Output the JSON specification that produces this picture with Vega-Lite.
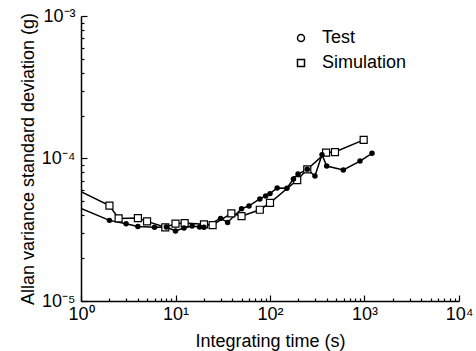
{
  "$schema": "https://vega.github.io/schema/vega-lite/v6.json",
  "width": 378,
  "height": 285,
  "autosize": {"type": "none"},
  "padding": {"left": 81, "top": 16, "right": 17, "bottom": 50},
  "background": "white",
  "config": {
    "view": {"stroke": null},
    "font": "Liberation Sans",
    "axis": {
      "domainColor": "black",
      "domainWidth": 1.5,
      "tickColor": "black",
      "tickWidth": 1.2,
      "labelColor": "black",
      "titleColor": "black",
      "labelFont": "Liberation Sans",
      "titleFont": "Liberation Sans",
      "labelFontSize": 18,
      "titleFontSize": 18,
      "titleFontWeight": "normal",
      "grid": false,
      "labelOverlap": false,
      "labelFlush": false
    }
  },
  "data": {
    "values": [
      {"series": "Test", "t": 1, "v": 4.47e-5},
      {"series": "Test", "t": 2, "v": 3.68e-5},
      {"series": "Test", "t": 3, "v": 3.49e-5},
      {"series": "Test", "t": 4, "v": 3.33e-5},
      {"series": "Test", "t": 6, "v": 3.29e-5},
      {"series": "Test", "t": 8, "v": 3.3e-5},
      {"series": "Test", "t": 10, "v": 3.1e-5},
      {"series": "Test", "t": 12.3, "v": 3.25e-5},
      {"series": "Test", "t": 15, "v": 3.36e-5},
      {"series": "Test", "t": 18, "v": 3.3e-5},
      {"series": "Test", "t": 20, "v": 3.29e-5},
      {"series": "Test", "t": 30, "v": 3.8e-5},
      {"series": "Test", "t": 35.6, "v": 3.56e-5},
      {"series": "Test", "t": 50, "v": 4.44e-5},
      {"series": "Test", "t": 60, "v": 4.65e-5},
      {"series": "Test", "t": 78, "v": 5.2e-5},
      {"series": "Test", "t": 90, "v": 5.46e-5},
      {"series": "Test", "t": 100, "v": 5.67e-5},
      {"series": "Test", "t": 119, "v": 6.21e-5},
      {"series": "Test", "t": 151, "v": 6.18e-5},
      {"series": "Test", "t": 177, "v": 7.18e-5},
      {"series": "Test", "t": 198, "v": 7.78e-5},
      {"series": "Test", "t": 248, "v": 8.4e-5},
      {"series": "Test", "t": 299, "v": 7.53e-5},
      {"series": "Test", "t": 355, "v": 1.064e-4},
      {"series": "Test", "t": 398, "v": 8.86e-5},
      {"series": "Test", "t": 597, "v": 8.3e-5},
      {"series": "Test", "t": 896, "v": 9.59e-5},
      {"series": "Test", "t": 1200, "v": 1.087e-4},
      {"series": "Simulation", "t": 1, "v": 5.85e-5},
      {"series": "Simulation", "t": 2, "v": 4.67e-5},
      {"series": "Simulation", "t": 2.5, "v": 3.8e-5},
      {"series": "Simulation", "t": 4, "v": 3.82e-5},
      {"series": "Simulation", "t": 5, "v": 3.62e-5},
      {"series": "Simulation", "t": 7.8, "v": 3.29e-5},
      {"series": "Simulation", "t": 10, "v": 3.49e-5},
      {"series": "Simulation", "t": 12.5, "v": 3.52e-5},
      {"series": "Simulation", "t": 20, "v": 3.45e-5},
      {"series": "Simulation", "t": 24.7, "v": 3.41e-5},
      {"series": "Simulation", "t": 39, "v": 4.12e-5},
      {"series": "Simulation", "t": 50, "v": 3.94e-5},
      {"series": "Simulation", "t": 78, "v": 4.37e-5},
      {"series": "Simulation", "t": 100, "v": 4.88e-5},
      {"series": "Simulation", "t": 194, "v": 7.06e-5},
      {"series": "Simulation", "t": 248, "v": 8.4e-5},
      {"series": "Simulation", "t": 392, "v": 1.1e-4},
      {"series": "Simulation", "t": 487, "v": 1.11e-4},
      {"series": "Simulation", "t": 980, "v": 1.35e-4}
    ]
  },
  "encoding": {
    "x": {
      "field": "t",
      "type": "quantitative",
      "scale": {"type": "log", "domain": [1, 10000]},
      "axis": {
        "title": "Integrating time (s)",
        "titlePadding": 6,
        "values": [1,2,3,4,5,6,7,8,9,10,20,30,40,50,60,70,80,90,100,200,300,400,500,600,700,800,900,1000,2000,3000,4000,5000,6000,7000,8000,9000,10000],
        "tickSize": {"condition": {"test": "indexof([1,10,100,1000,10000], datum.value) >= 0", "value": -6}, "value": -3},
        "labelPadding": 10,
        "labelExpr": "datum.value == 1 ? '10⁰' : datum.value == 10 ? '10¹' : datum.value == 100 ? '10²' : datum.value == 1000 ? '10³' : datum.value == 10000 ? '10⁴' : ''"
      }
    },
    "y": {
      "field": "v",
      "type": "quantitative",
      "scale": {"type": "log", "domain": [0.00001, 0.001]},
      "axis": {
        "title": "Allan variance standard deviation (g)",
        "titlePadding": 4,
        "values": [0.00001,0.00002,0.00003,0.00004,0.00005,0.00006,0.00007,0.00008,0.00009,0.0001,0.0002,0.0003,0.0004,0.0005,0.0006,0.0007,0.0008,0.0009,0.001],
        "tickSize": {"condition": {"test": "indexof([0.00001,0.0001,0.001], datum.value) >= 0", "value": -6}, "value": -3},
        "labelPadding": 12,
        "labelExpr": "datum.value == 0.00001 ? '10⁻⁵' : datum.value == 0.0001 ? '10⁻⁴' : datum.value == 0.001 ? '10⁻³' : ''"
      }
    }
  },
  "layer": [
    {
      "mark": {"type": "line", "color": "black", "strokeWidth": 1.5, "clip": true},
      "encoding": {
        "detail": {"field": "series"},
        "order": {"field": "t"}
      }
    },
    {
      "transform": [{"filter": "datum.series == 'Simulation' && datum.t > 1.5"}],
      "mark": {"type": "point", "stroke": "black", "fill": "white", "strokeWidth": 1.2, "opacity": 1, "fillOpacity": 1, "size": 49},
      "encoding": {
        "shape": {
          "field": "series",
          "type": "nominal",
          "scale": {"domain": ["Test", "Simulation"], "range": ["circle", "square"]},
          "legend": {
            "title": null,
            "orient": "none",
            "legendX": 211,
            "legendY": 13,
            "labelFont": "Liberation Sans",
            "labelFontSize": 18,
            "labelColor": "black",
            "labelOffset": 12,
            "rowPadding": 7,
            "symbolSize": 49,
            "encode": {
              "symbols": {
                "fill": {
                  "condition": {"test": "datum.value == 'Test'", "value": "black"},
                  "value": "white"
                },
                "stroke": {"value": "black"}
              }
            }
          }
        }
      }
    },
    {
      "transform": [{"filter": "datum.series == 'Test' && datum.t > 1.5"}],
      "mark": {"type": "circle", "color": "black", "opacity": 1, "size": 30}
    }
  ]
}
